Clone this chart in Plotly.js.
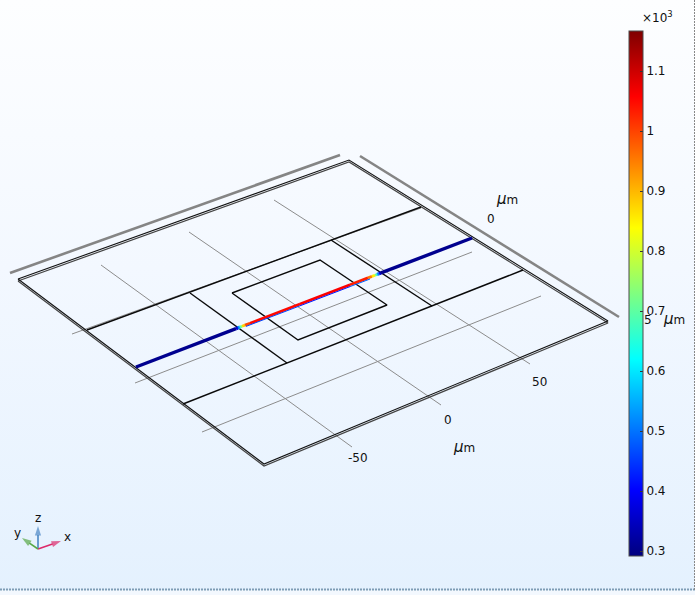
<!DOCTYPE html>
<html>
<head>
<meta charset="utf-8">
<script src="https://cdn.plot.ly/plotly-3.0.1.min.js"></script>
<style>
html,body{margin:0;padding:0;width:695px;height:595px;overflow:hidden;
background:linear-gradient(to bottom,#fdfeff 0%,#f3f8ff 45%,#e4f1fe 100%);}
#chart{width:695px;height:595px;}
</style>
</head>
<body>
<div id="chart"></div>
<script>
// plate outline (upper and lower faces)
const plateTopX = [18, 349, 608, 264, 18];
const plateTopY = [279, 160, 321, 464, 279];
const plateLowX = [18, 349, 608, 264, 18];
const plateLowY = [281, 162, 323, 466, 281];
// back axis rails
const railAX = [10, 340];
const railAY = [273, 155];
const railBX = [360, 619];
const railBY = [156, 317];
// grid lines
const gridX = [[72, 421], [135, 472], [202, 541], [101, 352], [189, 441], [274, 530]];
const gridY = [[334, 208], [383, 252], [432, 296], [265, 447], [232, 405], [200, 364]];
// device regions
const regionX = [[87, 421], [183, 523], [190, 287], [331, 432]];
const regionY = [[330, 207], [404, 270], [293, 363], [240, 306]];
const gateX = [232, 320, 387, 298, 232];
const gateY = [293, 260, 305, 340, 293];
// channel surface values (x 10^3)
const channelX = [136, 236, 238, 240, 242, 245, 250, 300, 350, 368, 372, 375, 377, 379, 381, 472];
const channelY = [367, 328.6, 327.8, 327.1, 326.3, 325.1, 323.2, 304, 284.8, 277.9, 276.4, 275.2, 274.5, 273.7, 272.9, 238];
const channelV = [0.3, 0.31, 0.45, 0.62, 0.8, 0.95, 1.04, 1.06, 1.06, 1.0, 0.9, 0.8, 0.62, 0.42, 0.31, 0.3];
const edgeX = [246, 300, 350, 370];
const edgeY = [326.4, 305.8, 286.6, 279];
const edgeV = [0.5, 0.42, 0.42, 0.55];
// colour bar
const colorMin = 0.2917, colorMax = 1.1667;
const tickVals = [0.3, 0.4, 0.5, 0.6, 0.7, 0.8, 0.9, 1, 1.1];
const tickText = ['0.3', '0.4', '0.5', '0.6', '0.7', '0.8', '0.9', '1', '1.1'];
const jetStops = [[0, '#00007f'], [0.125, '#0000ff'], [0.375, '#00ffff'], [0.625, '#ffff00'], [0.875, '#ff0000'], [1, '#7f0000']];
// axis labels
const mu = '<i style="font-size:15px">μ</i>m';
const labelText = ['-50', '0', '50', '0', '5', mu, mu, mu];
const labelX = [358, 448, 539, 491, 648, 464, 507, 674];
const labelY = [458, 420, 382, 219, 320, 447, 199, 319];
// orientation triad
const triadOriginX = 38, triadOriginY = 549;
const triadEndX = [38, 61, 22];
const triadEndY = [526, 541, 538];
const triadColor = ['#4a86c5', '#dc2a6a', '#58a846'];
const triadText = ['z', 'x', 'y'];
const triadLabelX = [38, 67, 17];
const triadLabelY = [518, 537, 533];

function hexRgb(h) { return [1, 3, 5].map(i => parseInt(h.substr(i, 2), 16)); }
function jet(v) {
  const t = Math.max(0, Math.min(1, (v - colorMin) / (colorMax - colorMin)));
  for (let i = 1; i < jetStops.length; i++) {
    if (t <= jetStops[i][0]) {
      const a = jetStops[i - 1], b = jetStops[i], f = (t - a[0]) / (b[0] - a[0]);
      const A = hexRgb(a[1]), B = hexRgb(b[1]);
      return 'rgb(' + A.map((c, k) => Math.round(c + (B[k] - c) * f)).join(',') + ')';
    }
  }
  return jetStops[jetStops.length - 1][1];
}
function line(x, y, color, width) {
  return {type: 'scatter', mode: 'lines', x, y, line: {color, width}, hoverinfo: 'skip', showlegend: false};
}
const traces = [];
gridX.forEach((x, i) => traces.push(line(x, gridY[i], '#8c8c8c', 1)));
traces.push(line(railAX, railAY, '#858585', 2.6));
traces.push(line(railBX, railBY, '#858585', 2.6));
traces.push(line(plateLowX, plateLowY, '#444444', 1.2));
traces.push(line(plateTopX, plateTopY, '#111111', 1.1));
regionX.forEach((x, i) => traces.push(line(x, regionY[i], '#0a0a0a', 1.4)));
traces.push(line(gateX, gateY, '#0a0a0a', 1.4));
for (let i = 0; i < channelX.length - 1; i++) {
  const inner = channelV[i] > 0.5 && channelV[i + 1] > 0.5;
  traces.push(line(channelX.slice(i, i + 2), channelY.slice(i, i + 2), jet((channelV[i] + channelV[i + 1]) / 2), inner ? 2.8 : 3.4));
}
for (let i = 0; i < edgeX.length - 1; i++) {
  traces.push(line(edgeX.slice(i, i + 2), edgeY.slice(i, i + 2), jet((edgeV[i] + edgeV[i + 1]) / 2), 1));
}
triadEndX.forEach((x, i) => {
  traces.push({
    type: 'scatter', mode: 'lines+markers', x: [triadOriginX, x], y: [triadOriginY, triadEndY[i]],
    line: {color: triadColor[i], width: 1.6}, hoverinfo: 'skip', showlegend: false,
    marker: {symbol: ['circle-open', 'arrow'], size: [0, 10], angleref: 'previous', color: triadColor[i], line: {width: 0}}
  });
});
traces.push({
  type: 'scatter', mode: 'markers', x: channelX, y: channelY, hoverinfo: 'skip', showlegend: false,
  marker: {
    size: 1, color: channelV, cmin: colorMin, cmax: colorMax, colorscale: jetStops, showscale: true,
    colorbar: {
      thicknessmode: 'pixels', thickness: 14, lenmode: 'pixels', len: 525,
      x: 629 / 695, xanchor: 'left', y: 1 - 31 / 595, yanchor: 'top', xpad: 0, ypad: 0,
      outlinecolor: '#4a4a4a', outlinewidth: 1, borderwidth: 0,
      tickmode: 'array', tickvals: tickVals, ticktext: tickText,
      ticks: 'inside', ticklen: 3, tickcolor: '#333333', tickwidth: 1,
      tickfont: {family: 'DejaVu Sans', size: 12, color: '#111111'}
    }
  }
});
const font = {family: 'DejaVu Sans', size: 12, color: '#111111'};
const annotations = [];
labelText.forEach((t, i) => annotations.push({
  xref: 'x', yref: 'y', x: labelX[i], y: labelY[i], text: t, showarrow: false, font
}));
annotations.push({xref: 'x', yref: 'y', x: 657, y: 17, text: '×10<sup>3</sup>', showarrow: false, font});
triadText.forEach((t, i) => annotations.push({
  xref: 'x', yref: 'y', x: triadLabelX[i], y: triadLabelY[i], text: t, showarrow: false, font
}));
const layout = {
  width: 695, height: 595, margin: {l: 0, r: 0, t: 0, b: 0},
  paper_bgcolor: 'rgba(0,0,0,0)', plot_bgcolor: 'rgba(0,0,0,0)',
  xaxis: {range: [0, 695], visible: false, fixedrange: true},
  yaxis: {range: [595, 0], visible: false, fixedrange: true},
  showlegend: false, annotations,
  shapes: [
    {type: 'rect', xref: 'x', yref: 'y', x0: 0, x1: 695, y0: 590, y1: 595, fillcolor: '#f3f8fe', line: {width: 0}, layer: 'below'},
    {type: 'line', xref: 'x', yref: 'y', x0: 0, x1: 695, y0: 589.5, y1: 589.5, line: {color: '#7f9db5', width: 2, dash: '2px,1px'}},
    {type: 'line', xref: 'x', yref: 'y', x0: 694.5, x1: 694.5, y0: 0, y1: 590, line: {color: '#888888', width: 1, dash: '2px,1px'}}
  ]
};
Plotly.newPlot('chart', traces, layout, {displayModeBar: false, staticPlot: true});
</script>
</body>
</html>
